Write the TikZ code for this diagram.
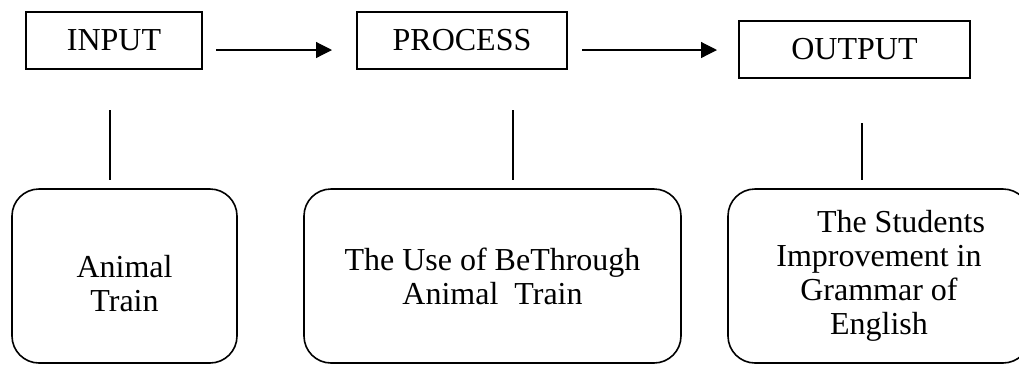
\documentclass[tikz,border=0pt]{standalone}
\usepackage{fontspec}
\setmainfont{Liberation Serif}
\usetikzlibrary{arrows.meta}

\begin{document}
\begin{tikzpicture}[
  x=0.5pt, y=-0.5pt,
  stage/.style={draw, line width=0.6pt, minimum height=28.5pt, inner sep=0pt, font=\fontsize{16}{17}\selectfont},
  detail/.style={draw, line width=0.8pt, rounded corners=13.5pt, minimum height=87pt, inner sep=0pt, align=center, font=\fontsize{16}{17}\selectfont},
  flow/.style={draw, line width=0.6pt, -{Triangle[length=8pt,width=8pt]}},
  link/.style={draw, line width=0.6pt}
]
\useasboundingbox (0,0) rectangle (1019,366);
\clip (0,0) rectangle (1019,366);

\node[stage, minimum width=88pt] (input) at (114,40.5) {INPUT};
\node[stage, minimum width=105pt] (process) at (462,40.5) {PROCESS};
\node[stage, minimum width=115.5pt] (output) at (854.5,49.5) {OUTPUT\hspace{8.5pt}};

\node[detail, minimum width=112.5pt, text height=35pt, text depth=0pt] (animal) at (124.5,276) {Animal\\Train};
\node[detail, minimum width=188.5pt] (method) at (492.5,276) {The Use of BeThrough\\Animal~ Train};
\node[detail, minimum width=151pt] (result) at (879,276) {\hspace*{22pt}The Students\\Improvement in\\Grammar of\\English};

\coordinate (flow1a) at (216,50);
\coordinate (flow1b) at (332,50);
\coordinate (flow2a) at (582,50);
\coordinate (flow2b) at (717,50);
\coordinate (link1a) at (110,110);
\coordinate (link1b) at (110,180);
\coordinate (link2a) at (513,110);
\coordinate (link2b) at (513,180);
\coordinate (link3a) at (862,123);
\coordinate (link3b) at (862,180);

\draw[flow] (flow1a) -- (flow1b);
\draw[flow] (flow2a) -- (flow2b);
\draw[link] (link1a) -- (link1b);
\draw[link] (link2a) -- (link2b);
\draw[link] (link3a) -- (link3b);
\end{tikzpicture}
\end{document}
